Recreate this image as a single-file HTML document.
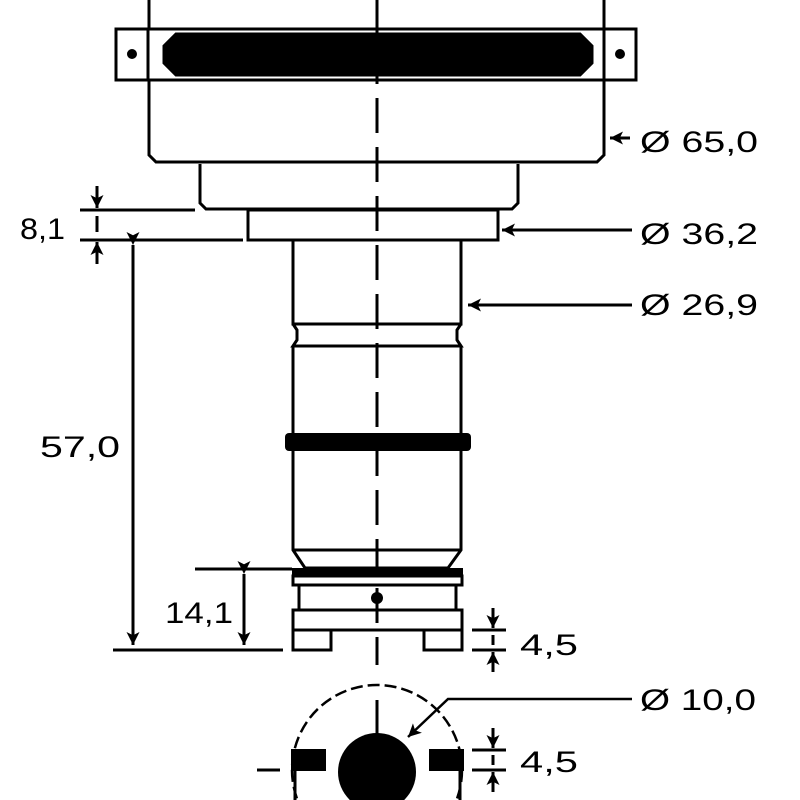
<!DOCTYPE html>
<html><head><meta charset="utf-8"><style>html,body{margin:0;padding:0;background:#fff;width:800px;height:800px;overflow:hidden}svg{display:block}</style></head>
<body>
<svg width="800" height="800" viewBox="0 0 800 800" xmlns="http://www.w3.org/2000/svg">
<defs>
<marker id="a" viewBox="0 0 12 12" refX="12" refY="6" markerWidth="13" markerHeight="13" markerUnits="userSpaceOnUse" orient="auto"><path d="M0,0L12,6L0,12L3,6z" fill="#000"/></marker>
</defs>
<g fill="none" stroke="#000" stroke-width="3">
<path d="M149,0V155L156,162H597L604,155V0"/>
<rect x="116" y="29" width="520" height="51" fill="#fff"/>
<line x1="148" y1="29" x2="148" y2="80"/><line x1="604" y1="29" x2="604" y2="80"/>
<path d="M176,34H580L592,46V63L580,75H176L164,63V46Z" fill="#000"/>
<path d="M200,164V203L206,209H512L518,203V164"/>
<rect x="248" y="210" width="250" height="30"/>
<path d="M293,240V324H461V240"/>
<path d="M293,324L297,330V340L293,346H461L457,340V330L461,324"/>
<path d="M293,346V550L305,568H448L461,550V346"/>
<line x1="293" y1="550" x2="461" y2="550"/>
<rect x="285" y="433" width="186" height="18" rx="4" fill="#000" stroke="none"/>
<rect x="292" y="568" width="171" height="8" fill="#000" stroke="none"/>
<rect x="293" y="576" width="169" height="9"/>
<path d="M299,585V610M456,585V610"/>
<rect x="293" y="610" width="169" height="20"/>
<path d="M293,630V650H331V630M424,630V650H462V630"/>
<line x1="195" y1="569" x2="292" y2="569"/>
<line x1="113" y1="650" x2="283" y2="650"/>
<line x1="80" y1="210" x2="195" y2="210"/>
<line x1="80" y1="240" x2="243" y2="240"/>
<line x1="472" y1="630" x2="506" y2="630"/>
<line x1="472" y1="650" x2="506" y2="650"/>
<line x1="472" y1="750" x2="506" y2="750"/>
<line x1="472" y1="770" x2="506" y2="770"/>
</g>
<circle cx="377" cy="598" r="6" fill="#000"/>
<circle cx="132" cy="54" r="5" fill="#000"/>
<circle cx="620" cy="54" r="5" fill="#000"/>
<line x1="377" y1="0" x2="377" y2="665" stroke="#000" stroke-width="3" stroke-dasharray="35,14"/>
<g stroke="#000" stroke-width="3" fill="none">
<line x1="133" y1="245" x2="133" y2="645" marker-start="url(#a)" marker-end="url(#a)"/>
<line x1="244" y1="574" x2="244" y2="645" marker-start="url(#a)" marker-end="url(#a)"/>
<line x1="97" y1="186" x2="97" y2="208" marker-end="url(#a)"/>
<line x1="97" y1="216" x2="97" y2="232"/>
<line x1="97" y1="264" x2="97" y2="242" marker-end="url(#a)"/>
<line x1="630" y1="138" x2="610" y2="138" marker-end="url(#a)"/>
<line x1="632" y1="230" x2="502" y2="230" marker-end="url(#a)"/>
<line x1="632" y1="305" x2="468" y2="305" marker-end="url(#a)"/>
<line x1="493" y1="608" x2="493" y2="628" marker-end="url(#a)"/>
<line x1="493" y1="635" x2="493" y2="645"/>
<line x1="493" y1="672" x2="493" y2="652" marker-end="url(#a)"/>
<line x1="493" y1="728" x2="493" y2="748" marker-end="url(#a)"/>
<line x1="493" y1="755" x2="493" y2="765"/>
<line x1="493" y1="792" x2="493" y2="772" marker-end="url(#a)"/>
<path d="M632,699H448L408,737" marker-end="url(#a)" stroke-width="2.5"/>
</g>
<circle cx="377" cy="770" r="85" fill="none" stroke="#000" stroke-width="2.5" stroke-dasharray="12,5"/>
<rect x="291" y="749" width="35" height="22" fill="#000"/>
<rect x="429" y="749" width="35" height="22" fill="#000"/>
<circle cx="377" cy="772" r="39" fill="#000"/>
<g stroke="#000" stroke-width="3">
<line x1="377" y1="700" x2="377" y2="735"/>
<line x1="257" y1="770" x2="280" y2="770"/>
<line x1="295" y1="770" x2="295" y2="800"/><line x1="460" y1="770" x2="460" y2="800"/>
</g>
<g font-family="Liberation Sans, DejaVu Sans, sans-serif" font-size="30" fill="#000" lengthAdjust="spacingAndGlyphs">
<text x="20" y="239" textLength="45" lengthAdjust="spacingAndGlyphs">8,1</text>
<text x="40" y="457" textLength="80" lengthAdjust="spacingAndGlyphs">57,0</text>
<text x="165" y="623" textLength="68" lengthAdjust="spacingAndGlyphs">14,1</text>
<text x="640" y="152" textLength="118" lengthAdjust="spacingAndGlyphs">Ø 65,0</text>
<text x="640" y="244" textLength="118" lengthAdjust="spacingAndGlyphs">Ø 36,2</text>
<text x="640" y="315" textLength="118" lengthAdjust="spacingAndGlyphs">Ø 26,9</text>
<text x="520" y="655" textLength="58" lengthAdjust="spacingAndGlyphs">4,5</text>
<text x="640" y="710" textLength="116" lengthAdjust="spacingAndGlyphs">Ø 10,0</text>
<text x="520" y="772" textLength="58" lengthAdjust="spacingAndGlyphs">4,5</text>
</g>
</svg>
</body></html>
